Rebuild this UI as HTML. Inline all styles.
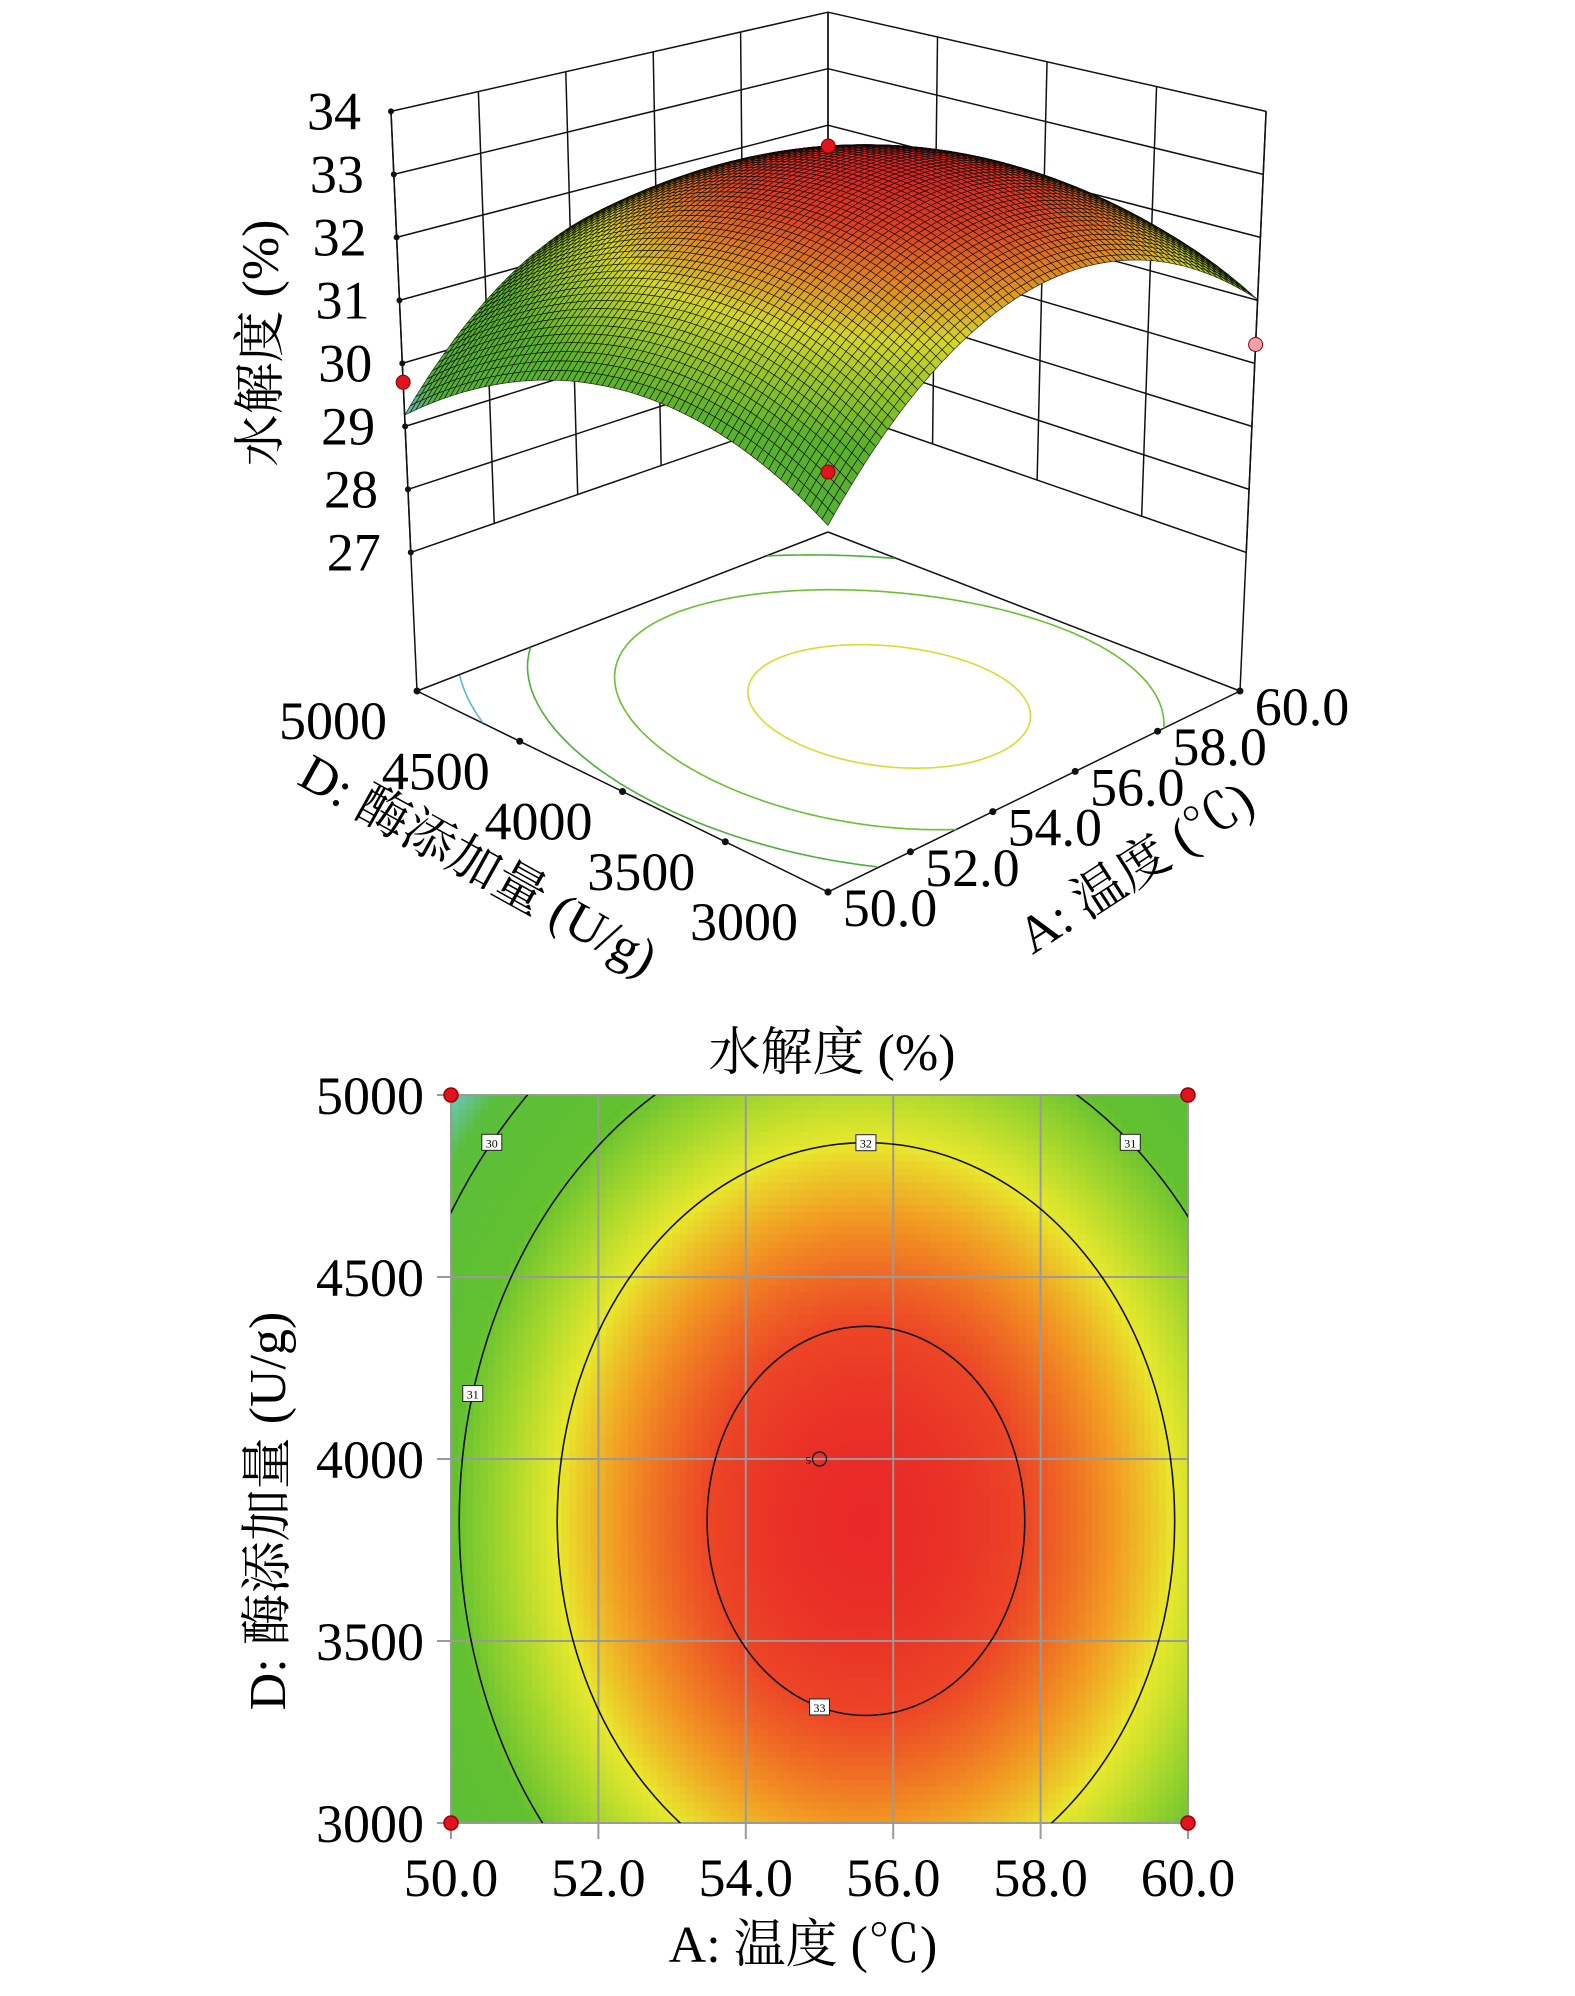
<!DOCTYPE html>
<html><head><meta charset="utf-8"><style>
html,body{margin:0;padding:0;background:#fff;overflow:hidden;width:1575px;height:1996px;}
svg{display:block;font-family:"Liberation Serif","Noto Serif CJK SC",serif;}
</style></head>
<body>
<svg id="chart" width="1575" height="1996" viewBox="0 0 1575 1996" xmlns="http://www.w3.org/2000/svg">
<defs><clipPath id="plotClip"><rect x="451" y="1095" width="737" height="728"/></clipPath></defs>
<g id="g3d"></g>
<g id="g2d"></g>
<text x="832" y="1070" font-size="52" text-anchor="middle">水解度 (%)</text>
<text x="803" y="1962" font-size="52" text-anchor="middle">A: 温度 (℃)</text>
<text transform="translate(285,1511) rotate(-90)" font-size="52" text-anchor="middle">D: 酶添加量 (U/g)</text>
<text transform="translate(278,343) rotate(-90)" font-size="52" text-anchor="middle">水解度 (%)</text>
<text transform="translate(470,880) rotate(29)" font-size="52" text-anchor="middle">D: 酶添加量 (U/g)</text>
<text transform="translate(1145,882) rotate(-33)" font-size="52" text-anchor="middle">A: 温度 (℃)</text>
</svg>
<script>
const aTicks=[50,52,54,56,58,60];
const dTicks=[3000,3500,4000,4500,5000];
const zTicks=[27,28,29,30,31,32,33,34];
const modelPeak=[33.36];
const modelCenter=[55.63,3830];
const modelCurv=[0.0775,1.26e-6];
const contourLevels=[30,31,32,33];
const designA=[50,50,55,60,60];
const designD=[3000,5000,4000,3000,5000];
const designZ=[30.8,29.7,33.6,30.3,30.0];
const labelLevels=[30,31,32,31,33];
const labelD=[4870,4180,4870,4870,3340];
const labelSide=[-1,-1,0,1,0];

const NS="http://www.w3.org/2000/svg";
function mk(tag,attrs,parent){const e=document.createElementNS(NS,tag);for(const k in attrs)e.setAttribute(k,attrs[k]);parent.appendChild(e);return e;}
function model(a,d){return modelPeak[0]-modelCurv[0]*(a-modelCenter[0])**2-modelCurv[1]*(d-modelCenter[1])**2;}
const stops=[[28.6,[80,150,230]],[29.1,[110,200,215]],[29.7,[90,190,60]],[30.9,[98,192,48]],[31.5,[165,215,45]],[32.0,[232,232,45]],[32.5,[242,150,35]],[33.0,[236,70,38]],[33.4,[232,38,40]]];
function cmap(v){if(v<=stops[0][0])return stops[0][1];for(let i=1;i<stops.length;i++){if(v<=stops[i][0]){const t=(v-stops[i-1][0])/(stops[i][0]-stops[i-1][0]);return stops[i-1][1].map((c,j)=>Math.round(c+(stops[i][1][j]-c)*t));}}return stops[stops.length-1][1];}
function rgb(c,f){f=f||1;return `rgb(${Math.round(c[0]*f)},${Math.round(c[1]*f)},${Math.round(c[2]*f)})`;}

/* ---------- 2D contour plot ---------- */
const g2=document.getElementById('g2d');
const px0=451,px1=1188,py0=1823,py1=1095;
const xA=a=>px0+(a-50)/10*(px1-px0);
const yD=d=>py0-(d-3000)/2000*(py0-py1);
const heat=mk('g',{'shape-rendering':'crispEdges'},g2);


const NC=100;
for(let i=0;i<NC;i++)for(let j=0;j<NC;j++){
  const a0=50+10*i/NC,a1=50+10*(i+1)/NC,d0=3000+2000*j/NC,d1=3000+2000*(j+1)/NC;
  const v=model((a0+a1)/2,(d0+d1)/2);
  const r=mk('rect',{x:xA(a0),y:yD(d1),width:xA(a1)-xA(a0)+0.6,height:yD(d0)-yD(d1)+0.6,fill:rgb(cmap(v))},heat);
  
  
}
aTicks.forEach(a=>{const l=mk('line',{x1:xA(a),x2:xA(a),y1:py1,y2:py0+16,stroke:'#9a9a9a','stroke-width':2},g2);
 const t=mk('text',{x:xA(a),y:1896,'font-size':54,'text-anchor':'middle'},g2);t.textContent=a.toFixed(1);});
dTicks.forEach(d=>{const l=mk('line',{x1:px0-14,x2:px1,y1:yD(d),y2:yD(d),stroke:'#9a9a9a','stroke-width':2},g2);
 const t=mk('text',{x:424,y:yD(d)+19,'font-size':54,'text-anchor':'end'},g2);t.textContent=d;});
const cg=mk('g',{'clip-path':'url(#plotClip)'},g2);
contourLevels.forEach(L=>{const e=mk('ellipse',{cx:xA(modelCenter[0]),cy:yD(modelCenter[1]),rx:Math.sqrt((modelPeak[0]-L)/modelCurv[0])/10*(px1-px0),ry:Math.sqrt((modelPeak[0]-L)/modelCurv[1])/2000*(py0-py1),fill:'none',stroke:'#111','stroke-width':1.6},cg);});
labelLevels.forEach((L,k)=>{const d=labelD[k];const rem=(modelPeak[0]-L-modelCurv[1]*(d-modelCenter[1])**2)/modelCurv[0];
 let a=labelSide[k]===0?(L===33?55:modelCenter[0]):modelCenter[0]+labelSide[k]*Math.sqrt(Math.max(rem,0));
 let dd=d; if(labelSide[k]===0){const r2=(modelPeak[0]-L-modelCurv[0]*(a-modelCenter[0])**2)/modelCurv[1];dd=modelCenter[1]+(L===33?-1:1)*Math.sqrt(Math.max(r2,0));}
 const x=xA(a),y=yD(dd);
 const g=mk('g',{},g2);
 mk('rect',{x:x-10,y:y-8,width:20,height:16,fill:'#fff',stroke:'#222','stroke-width':1},g);
 const t=mk('text',{x:x,y:y+5,'font-size':12,'text-anchor':'middle'},g);t.textContent=L;});
designA.forEach((a,k)=>{const c=mk('circle',{cx:xA(a),cy:yD(designD[k]),r:7,fill:k===2?'none':'#e0141e',stroke:k===2?'#222':'#900','stroke-width':1.5},g2);});
const c5=mk('text',{x:xA(55)-14,y:yD(4000)+5,'font-size':11},g2);c5.textContent='5';

/* ---------- 3D surface plot ---------- */
const g3=document.getElementById('g3d');
const F=[828,892],R=[1240,691],Lc=[417,691],B=[828,532];
const sF=70,sR=63,sL=63,sB=56.5,zf=24.8;
function proj(a,d,z){const X=(a-50)/10,Y=(d-3000)/2000;
 const w=[(1-X)*(1-Y),X*(1-Y),(1-X)*Y,X*Y];
 const fx=w[0]*F[0]+w[1]*R[0]+w[2]*Lc[0]+w[3]*B[0];
 const fy=w[0]*F[1]+w[1]*R[1]+w[2]*Lc[1]+w[3]*B[1];
 const s=w[0]*sF+w[1]*sR+w[2]*sL+w[3]*sB;
 const h=(z-zf);
 return [828+(fx-828)*(1+0.00688*h),fy-h*s];}
function line3(p,q,attrs,name){const a=proj(...p),b=proj(...q);const l=mk('line',Object.assign({x1:a[0],y1:a[1],x2:b[0],y2:b[1],stroke:'#111','stroke-width':1.5},attrs||{}),g3);return l;}
zTicks.forEach(z=>{line3([50,5000,z],[60,5000,z],{},'back-left-wall-gridline');line3([60,5000,z],[60,3000,z],{},'back-right-wall-gridline');});
aTicks.forEach(a=>line3([a,5000,27],[a,5000,34],{},'back-left-wall-vertical'));
dTicks.forEach(d=>line3([60,d,27],[60,d,34],{},'back-right-wall-vertical'));
line3([50,5000,zf],[50,5000,34],{},'left-vertical-edge');
line3([60,3000,zf],[60,3000,34],{},'right-vertical-edge');
line3([50,3000,zf],[50,5000,zf],{},'floor-edge-d');
line3([50,3000,zf],[60,3000,zf],{},'floor-edge-a');
line3([50,5000,zf],[60,5000,zf],{},'floor-edge-back-left');
line3([60,5000,zf],[60,3000,zf],{},'floor-edge-back-right');
const floorCol={30:'#5ab8e0',31:'#4caf3a',32:'#6cbf30',33:'#d8dc30'};
contourLevels.forEach(L=>{const rA=Math.sqrt((modelPeak[0]-L)/modelCurv[0]),rD=Math.sqrt((modelPeak[0]-L)/modelCurv[1]);
 let segs=[],cur=[];
 for(let i=0;i<=720;i++){const t=i/720*2*Math.PI;const a=modelCenter[0]+rA*Math.cos(t),d=modelCenter[1]+rD*Math.sin(t);
  if(a>=50&&a<=60&&d>=3000&&d<=5000){const p=proj(a,d,zf);cur.push(p[0].toFixed(1)+','+p[1].toFixed(1));}else{if(cur.length>1)segs.push(cur);cur=[];}}
 if(cur.length>1)segs.push(cur);
 segs.forEach(s=>{const pl=mk('polyline',{points:s.join(' '),fill:'none',stroke:floorCol[L],'stroke-width':1.6},g3);});});
const N=72,quads=[];
for(let i=0;i<N;i++)for(let j=0;j<N;j++){const a0=50+10*i/N,a1=50+10*(i+1)/N,d0=3000+2000*j/N,d1=3000+2000*(j+1)/N;
 quads.push({i,j,a0,a1,d0,d1,depth:(i+j)});}
quads.sort((p,q)=>q.depth-p.depth);
const sg=mk('g',{'stroke-linejoin':'round'},g3);


quads.forEach(q=>{const pts=[[q.a0,q.d0],[q.a1,q.d0],[q.a1,q.d1],[q.a0,q.d1]].map(p=>proj(p[0],p[1],model(p[0],p[1])));
 const v=model((q.a0+q.a1)/2,(q.d0+q.d1)/2);
 const pg=mk('polygon',{points:pts.map(p=>p[0].toFixed(1)+','+p[1].toFixed(1)).join(' '),fill:rgb(cmap(v),0.92),stroke:'rgba(5,5,5,0.8)','stroke-width':0.7},sg);
 
 });
[0,1,2,3].forEach(k=>{const p=proj(designA[k],designD[k],designZ[k]);const c=mk('circle',{cx:p[0],cy:p[1],r:7,fill:k===3?'#f4a0a8':'#e0141e',stroke:'#800','stroke-width':1},g3);});
zTicks.forEach(z=>{const p=proj(50,5000,z);mk('circle',{cx:p[0],cy:p[1],r:3,fill:'#111'},g3);
 const t=mk('text',{x:p[0]-30,y:p[1]+18,'font-size':54,'text-anchor':'end'},g3);t.textContent=z;});
dTicks.forEach(d=>{const p=proj(50,d,zf);mk('circle',{cx:p[0],cy:p[1],r:3.5,fill:'#111'},g3);
 const t=mk('text',{x:p[0]-84,y:p[1]+48,'font-size':54,'text-anchor':'middle'},g3);t.textContent=d;});
aTicks.forEach(a=>{const p=proj(a,3000,zf);mk('circle',{cx:p[0],cy:p[1],r:3.5,fill:'#111'},g3);
 const t=mk('text',{x:p[0]+62,y:p[1]+34,'font-size':54,'text-anchor':'middle'},g3);t.textContent=a.toFixed(1);});
</script>
</body></html>
